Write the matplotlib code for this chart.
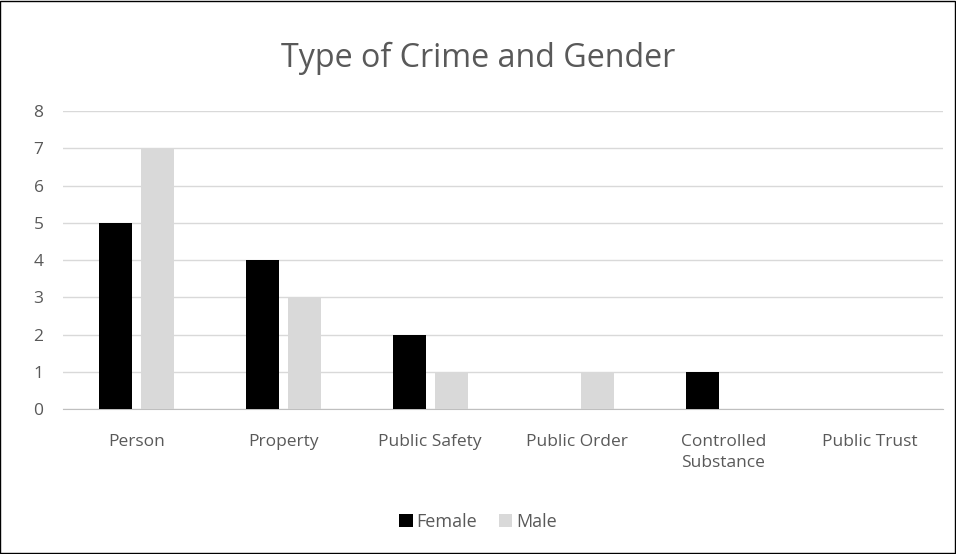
import matplotlib.pyplot as plt
import numpy as np
from matplotlib.patches import Rectangle

categories = ["Person", "Property", "Public Safety", "Public Order", "Controlled\nSubstance", "Public Trust"]
female = [5, 4, 2, 0, 1, 0]
male = [7, 3, 1, 1, 0, 0]

plt.rcParams['font.family'] = ['Open Sans', 'DejaVu Sans']

fig = plt.figure(figsize=(9.56, 5.54), dpi=100)
ax = fig.add_axes([0.0659, 0.2617, 0.921, 0.5379])

x = np.arange(len(categories))
w = 0.225
ax.bar(x - 0.14, female, w, color="black", label="Female", zorder=3)
ax.bar(x + 0.145, male, w, color="#d9d9d9", label="Male", zorder=3)

ax.set_xlim(-0.5, len(categories) - 0.5)
ax.set_ylim(0, 8)
ax.set_yticks(range(0, 9))
ax.yaxis.grid(True, color="#d9d9d9", linewidth=1)
ax.set_axisbelow(True)
for s in ["top", "right", "left"]:
    ax.spines[s].set_visible(False)
ax.spines["bottom"].set_color("#bfbfbf")
ax.tick_params(axis="y", length=0, labelsize=12.5, colors="#595959", pad=14)
ax.tick_params(axis="x", length=0, labelsize=12.5, colors="#595959", pad=18)
ax.set_xticks(x)
ax.set_xticklabels(categories, linespacing=1.45)

fig.text(0.5, 0.895, "Type of Crime and Gender", ha="center", va="center", fontsize=23.2, color="#595959")

fig.legend(loc="center", bbox_to_anchor=(0.5, 0.058), ncol=2, frameon=False,
           fontsize=13, labelcolor="#595959", handlelength=0.75, handleheight=0.75,
           handletextpad=0.2, columnspacing=1.2)

fig.patches.append(Rectangle((0.0005, 0.001), 0.998, 0.997, transform=fig.transFigure,
                             fill=False, edgecolor="black", linewidth=1))

fig.savefig("out.png", dpi=100)
